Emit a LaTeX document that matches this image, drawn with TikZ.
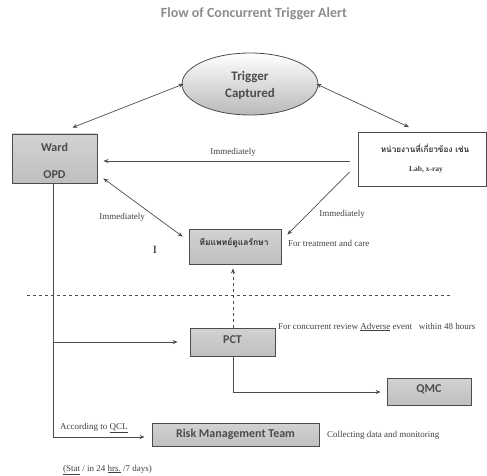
\documentclass[tikz,border=0pt]{standalone}
\usepackage{fontspec}
\setmainfont{Liberation Serif}
\newfontfamily\boxfont{Carlito}
\newfontfamily\thaifont[Script=Thai]{Loma}
\usetikzlibrary{arrows.meta,shapes.geometric,calc}
\begin{document}
\begin{tikzpicture}[x=1pt,y=-1pt,
  line/.style={draw=black!70, line width=0.7pt},
  arr/.style={line, -{Stealth[length=5pt,width=4pt]}},
  darr/.style={line, {Stealth[length=5pt,width=4pt]}-{Stealth[length=5pt,width=4pt]}},
  gbox/.style={draw=black!70, line width=0.8pt, top color=gray!35, middle color=white!95!gray, bottom color=gray!50, inner sep=0pt},
  lbl/.style={font=\fontsize{9}{10}\selectfont, text=black!75, inner sep=0pt},
  btxt/.style={font=\boxfont\bfseries\fontsize{12}{13}\selectfont, text=black!70}
]
\useasboundingbox (0,0) rectangle (487,476);
\node[font=\boxfont\bfseries\fontsize{14}{16}\selectfont, text=black!45] (title) at (254,14) {Flow of Concurrent Trigger Alert};

\node[ellipse, draw=black!70, line width=0.8pt, minimum width=136pt, minimum height=62pt, top color=white, bottom color=gray!55, inner sep=0pt] (trig) at (250,84) {};
\node[btxt, align=center, font=\boxfont\bfseries\fontsize{13}{17}\selectfont] at (250,85) {Trigger\\Captured};

\node[gbox, minimum width=85pt, minimum height=49pt] (ward) at (54.5,158.5) {};
\node[btxt] at (54.5,147) {Ward};
\node[btxt] at (54.5,175) {OPD};

\node[draw=black!70, line width=0.8pt, fill=white, minimum width=128pt, minimum height=54pt, inner sep=0pt] (unit) at (422,159.5) {};
\node[font=\thaifont\bfseries\fontsize{8.2}{9}\selectfont, text=black!80] at (425,148) {หน่วยงานที่เกี่ยวข้อง เช่น};
\node[lbl, font=\bfseries\fontsize{7.5}{8}\selectfont] at (426,170) {Lab, x-ray};

\node[gbox, minimum width=92pt, minimum height=35pt] (team) at (235,246.5) {};
\node[font=\thaifont\bfseries\fontsize{8.5}{9}\selectfont, text=black!80] at (234,243) {ทีมแพทย์ดูแลรักษา};
\node[lbl, anchor=west] (care) at (288,243) {For treatment and care};
\node[font=\fontsize{11}{11}\selectfont] (bar) at (155,250) {I};

\node[gbox, minimum width=85pt, minimum height=28pt] (pct) at (232.5,342) {};
\node[btxt] at (232.5,340) {PCT};
\node[lbl, anchor=west] (conc) at (278,327) {For concurrent review \underline{Adverse} event \ \ within 48 hours};

\node[gbox, minimum width=84pt, minimum height=27pt] (qmc) at (429,391.5) {};
\node[btxt] at (429,389) {QMC};

\node[gbox, minimum width=167pt, minimum height=23pt] (rmt) at (235.5,434.5) {};
\node[btxt] at (235.5,434.5) {Risk Management Team};
\node[lbl, anchor=west] (coll) at (327,435) {Collecting data and monitoring};
\node[lbl, anchor=west] (acc) at (60,428) {According to \underline{QCL}};
\node[lbl, anchor=west] (stat) at (63,470) {\underline{(Stat} / in 24 \underline{hrs.} /7 days)};

\node[lbl] (im1) at (233,152) {Immediately};
\node[lbl] (im2) at (122,217) {Immediately};
\node[lbl] (im3) at (342,214) {Immediately};

% connectors
\draw[darr] ($(trig.west)+(2,0)$) -- ($(ward.north east)+(-25,-6)$);
\draw[darr] ($(trig.east)+(-2,0)$) -- ($(unit.north)+(-13,-5)$);
\coordinate (w1) at (ward.east |- 0,161);
\coordinate (u1) at (unit.west |- 0,161);
\draw[arr] ($(u1)+(-8,0)$) -- ($(w1)+(6,0)$);
\draw[darr] ($(ward.south east)+(6,-5)$) -- ($(team.north west)+(-6,8)$);
\draw[arr] ($(unit.south west)+(-8,-15)$) -- ($(team.north east)+(6,6)$);

\draw[dashed, line width=0.6pt, draw=black!70] (27,295) -- (453,295);
\draw[line, dashed, -{Stealth[length=5pt,width=4pt]}] (pct.north -| 233,0) -- ($(team.south -| 233,0)+(0,4)$);

\coordinate (wb) at (53,183);
\draw[line] (wb) -- (53,437);
\draw[arr] (53,342) -- ($(pct.west)+(-12,0)$);
\draw[arr] (53,437) -- ($(rmt.west |- 0,437)+(-7,0)$);
\draw[arr] (233,356) -- (233,392) -- ($(qmc.west |- 0,392)+(-6,0)$);
\end{tikzpicture}
\end{document}
